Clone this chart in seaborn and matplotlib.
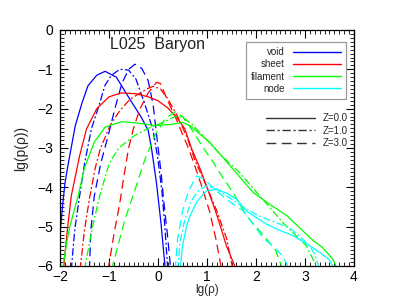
import numpy as np
import pandas as pd
import matplotlib
matplotlib.use("Agg")
import matplotlib.pyplot as plt
from matplotlib.lines import Line2D
import seaborn as sns

# ---------------- data ----------------
void_z0_x = [-2.0, -1.95, -1.9, -1.84, -1.69, -1.55, -1.43, -1.25, -1.08, -0.85, -0.54, -0.35, -0.2, -0.13, -0.03, 0.06, 0.15]
void_z0_y = [-5.2, -4.5, -3.9, -3.46, -2.44, -1.85, -1.42, -1.15, -1.05, -1.2, -1.83, -2.2, -2.55, -3.03, -3.9, -4.9, -6.1]
void_z1_x = [-1.77, -1.70, -1.6, -1.5, -1.36, -1.2, -1.08, -0.95, -0.78, -0.6, -0.45, -0.27, -0.1, 0.0, 0.08, 0.14, 0.2]
void_z1_y = [-6.1, -5.08, -4.22, -3.4, -2.52, -1.9, -1.4, -1.15, -1.0, -1.02, -1.25, -1.88, -2.55, -3.3, -4.1, -5.0, -6.1]
void_z3_x = [-1.40, -1.37, -1.3, -1.17, -1.01, -0.88, -0.74, -0.6, -0.47, -0.33, -0.2, -0.1, -0.03, 0.06, 0.13, 0.2, 0.26]
void_z3_y = [-6.1, -5.08, -4.22, -3.4, -2.65, -2.0, -1.37, -1.0, -0.87, -0.98, -1.29, -1.9, -2.65, -3.6, -4.5, -5.3, -6.1]

sheet_z0_x = [-1.93, -1.85, -1.77, -1.6, -1.46, -1.25, -1.0, -0.75, -0.45, -0.2, 0.0, 0.2, 0.4, 0.55, 0.69, 0.85, 1.0, 1.2, 1.4, 1.5, 1.6]
sheet_z0_y = [-6.1, -5.08, -4.22, -3.2, -2.52, -2.0, -1.7, -1.6, -1.62, -1.7, -1.8, -1.98, -2.25, -2.52, -3.03, -3.5, -4.0, -4.7, -5.5, -5.8, -6.1]
sheet_z1_x = [-1.59, -1.5, -1.39, -1.28, -1.18, -0.98, -0.78, -0.57, -0.23, -0.1, 0.05, 0.2, 0.4, 0.6, 0.75, 1.0, 1.2, 1.4, 1.53]
sheet_z1_y = [-6.1, -5.08, -4.22, -3.5, -3.03, -2.43, -2.05, -1.76, -1.5, -1.43, -1.5, -1.75, -2.2, -2.75, -3.3, -4.0, -4.6, -5.3, -6.1]
sheet_z3_x = [-1.02, -0.9, -0.78, -0.68, -0.6, -0.5, -0.37, -0.2, -0.03, 0.05, 0.18, 0.35, 0.5, 0.63, 0.75, 0.9, 1.05, 1.18, 1.3]
sheet_z3_y = [-6.1, -5.2, -4.4, -3.6, -3.0, -2.5, -2.01, -1.6, -1.33, -1.36, -1.75, -2.2, -2.65, -3.03, -3.45, -4.0, -4.6, -5.3, -6.1]

filament_z0_x = [-1.95, -1.85, -1.8, -1.63, -1.5, -1.3, -1.08, -0.74, -0.4, -0.06, 0.28, 0.5, 0.65, 1.06, 1.47, 1.94, 2.3, 2.63, 3.17, 3.35, 3.57, 3.67]
filament_z0_y = [-6.1, -5.3, -5.0, -4.22, -3.5, -2.85, -2.47, -2.33, -2.37, -2.43, -2.4, -2.35, -2.43, -2.86, -3.45, -4.13, -4.45, -4.72, -5.36, -5.52, -5.83, -6.1]
filament_z1_x = [-1.5, -1.35, -1.19, -1.0, -0.8, -0.5, -0.2, 0.1, 0.35, 0.5, 0.7, 1.0, 1.3, 1.67, 2.1, 2.55, 3.03, 3.27]
filament_z1_y = [-6.1, -5.08, -4.22, -3.4, -3.0, -2.7, -2.5, -2.35, -2.2, -2.22, -2.4, -2.8, -3.2, -3.63, -4.25, -4.9, -5.49, -6.1]
filament_z3_x = [-0.95, -0.8, -0.67, -0.48, -0.27, -0.05, 0.15, 0.35, 0.5, 0.7, 0.9, 1.12, 1.35, 1.53, 1.8, 2.0, 2.22, 2.4, 2.55]
filament_z3_y = [-6.1, -5.4, -4.8, -4.1, -3.3, -2.65, -2.25, -2.08, -2.2, -2.55, -2.95, -3.35, -3.8, -4.13, -4.72, -5.0, -5.32, -5.6, -6.1]

node_z0_x = [0.45, 0.5, 0.58, 0.65, 0.8, 0.99, 1.2, 1.4, 1.6, 1.8, 2.22, 2.5, 2.76, 3.05, 3.31, 3.5, 3.6]
node_z0_y = [-6.1, -5.5, -5.0, -4.73, -4.35, -4.09, -4.05, -4.15, -4.3, -4.6, -4.94, -5.1, -5.23, -5.45, -5.66, -5.85, -6.1]
node_z1_x = [0.4, 0.45, 0.55, 0.7, 0.85, 1.0, 1.2, 1.5, 1.8, 2.1, 2.42, 2.7, 2.9, 3.1, 3.2, 3.3]
node_z1_y = [-6.1, -5.4, -4.8, -4.3, -4.05, -3.96, -4.05, -4.3, -4.55, -4.75, -4.9, -5.05, -5.25, -5.5, -5.7, -6.1]
node_z3_x = [0.35, 0.4, 0.5, 0.62, 0.79, 0.95, 1.2, 1.5, 1.74, 1.95, 2.14, 2.35, 2.55, 2.69]
node_z3_y = [-6.1, -5.3, -4.6, -4.1, -3.71, -3.8, -4.1, -4.4, -4.6, -4.95, -5.28, -5.5, -5.75, -6.1]

environments = ["void", "sheet", "filament", "node"]
env_colors = ["#0000ff", "#ff0000", "#00ff00", "#00ffff"]
redshifts = ["Z=0.0", "Z=1.0", "Z=3.0"]
title_text = "L025  Baryon"

# ---------------- build long table ----------------
curves = {
    ("void", "Z=0.0"): (void_z0_x, void_z0_y),
    ("void", "Z=1.0"): (void_z1_x, void_z1_y),
    ("void", "Z=3.0"): (void_z3_x, void_z3_y),
    ("sheet", "Z=0.0"): (sheet_z0_x, sheet_z0_y),
    ("sheet", "Z=1.0"): (sheet_z1_x, sheet_z1_y),
    ("sheet", "Z=3.0"): (sheet_z3_x, sheet_z3_y),
    ("filament", "Z=0.0"): (filament_z0_x, filament_z0_y),
    ("filament", "Z=1.0"): (filament_z1_x, filament_z1_y),
    ("filament", "Z=3.0"): (filament_z3_x, filament_z3_y),
    ("node", "Z=0.0"): (node_z0_x, node_z0_y),
    ("node", "Z=1.0"): (node_z1_x, node_z1_y),
    ("node", "Z=3.0"): (node_z3_x, node_z3_y),
}
rows = []
for (env, z), (xs, ys) in curves.items():
    for xv, yv in zip(xs, ys):
        rows.append({"env": env, "z": z, "x": xv, "y": yv})
df = pd.DataFrame(rows)

# ---------------- style ----------------
sns.set_theme(style="ticks")
plt.rcParams["font.family"] = ["Liberation Sans", "DejaVu Sans"]
plt.rcParams["axes.linewidth"] = 0.9

fig = plt.figure(figsize=(4.15, 2.97), dpi=100)
ax = fig.add_axes([0.1446, 0.1044, 0.7084, 0.7946])

palette = dict(zip(environments, env_colors))
dash_map = {"Z=0.0": "", "Z=1.0": (6, 2, 1.5, 2), "Z=3.0": (7, 4)}

sns.lineplot(data=df, x="x", y="y", hue="env", style="z",
             palette=palette, dashes=dash_map, hue_order=environments,
             style_order=redshifts, estimator=None, sort=True,
             legend=False, linewidth=0.9, ax=ax)

ax.set_xlim(-2, 4)
ax.set_ylim(-6, 0)
ax.set_xticks(np.arange(-2, 5, 1))
ax.set_yticks(np.arange(-6, 1, 1))
ax.set_xticks(np.arange(-2, 4.001, 0.1), minor=True)
ax.set_yticks(np.arange(-6, 0.001, 0.1), minor=True)
ax.tick_params(which="both", direction="in", top=True, right=True,
               colors="black", labelsize=10)
ax.tick_params(which="major", length=6, width=0.8, pad=5)
ax.tick_params(axis="x", which="major", pad=3)
ax.tick_params(which="minor", length=3, width=0.6)
ax.set_xlabel("")
ax.set_ylabel("")
for s in ax.spines.values():
    s.set_color("black")

ax.text(-0.98, -0.38, title_text, fontsize=11.5, ha="left", va="center", color="#222222")

fig.text(207 / 415, 0.5 / 297, "lg(\u03c1)", ha="center", va="bottom", fontsize=8.5)
fig.text(21 / 415, 1 - 148 / 297, "lg(p(\u03c1))", ha="center", va="center",
         rotation=90, fontsize=10)

# legend 1: environments
env_handles = [Line2D([], [], color=c, lw=1.0) for c in env_colors]
leg1 = ax.legend(env_handles, environments, loc="upper right",
                 bbox_to_anchor=(0.99, 0.968), markerfirst=False,
                 fontsize=7, handlelength=5.0, labelspacing=0.22,
                 borderpad=0.5, handletextpad=0.8, frameon=True,
                 fancybox=False, edgecolor="#999999", framealpha=1)
leg1.get_frame().set_linewidth(0.9)
ax.add_artist(leg1)

# legend 2: redshifts
z_handles = [Line2D([], [], color="#333333", lw=1.0, linestyle="-"),
             Line2D([], [], color="#333333", lw=1.0, linestyle=(0, (6, 2, 1.5, 2))),
             Line2D([], [], color="#333333", lw=1.0, linestyle=(0, (7, 4)))]
leg2 = ax.legend(z_handles, redshifts, loc="upper right",
                 bbox_to_anchor=(1.005, 0.68), fontsize=7, handlelength=5.0,
                 labelspacing=0.25, handletextpad=0.8, frameon=False,
                 borderpad=0.3)

fig.savefig("out.png", dpi=100)
